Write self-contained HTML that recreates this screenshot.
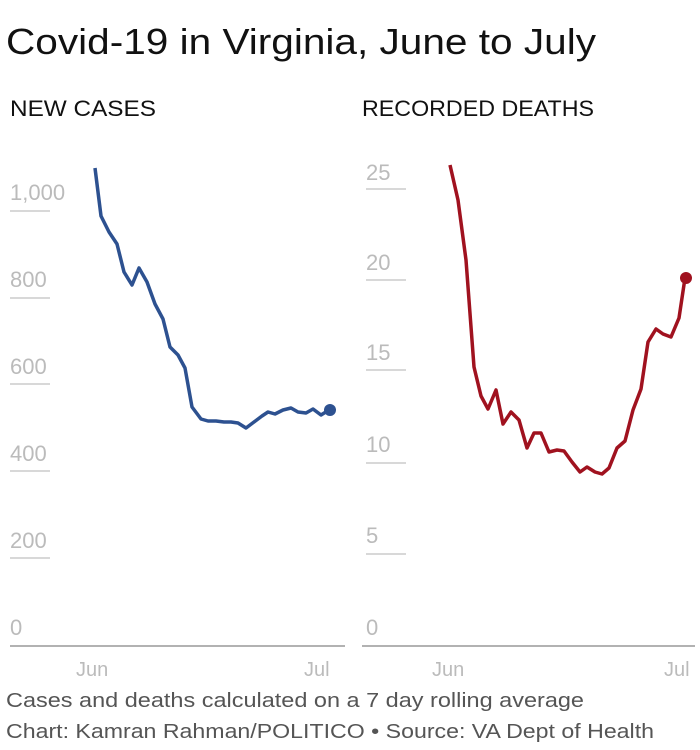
<!DOCTYPE html><html><head><style>body{margin:0;background:#fff}svg{display:block}</style></head><body>
<svg width="700" height="750" font-family="Liberation Sans, sans-serif">
<text x="6" y="54" font-size="36" fill="#111" textLength="590" lengthAdjust="spacingAndGlyphs">Covid-19 in Virginia, June to July</text>
<text x="10" y="116" font-size="22" fill="#111" textLength="146" lengthAdjust="spacingAndGlyphs">NEW CASES</text>
<text x="362" y="116" font-size="22" fill="#111" textLength="232" lengthAdjust="spacingAndGlyphs">RECORDED DEATHS</text>
<g fill="#bbb" font-size="22">
<text x="10" y="200">1,000</text><text x="10" y="287">800</text><text x="10" y="374">600</text><text x="10" y="461">400</text><text x="10" y="548">200</text><text x="10" y="635">0</text>
<text x="366" y="180">25</text><text x="366" y="270">20</text><text x="366" y="360">15</text><text x="366" y="452">10</text><text x="366" y="543">5</text><text x="366" y="635">0</text>
</g>
<g stroke="#d8d8d8" stroke-width="2">
<line x1="10" x2="50" y1="211" y2="211"/><line x1="10" x2="50" y1="298" y2="298"/><line x1="10" x2="50" y1="384" y2="384"/><line x1="10" x2="50" y1="471" y2="471"/><line x1="10" x2="50" y1="558" y2="558"/>
<line x1="366" x2="406" y1="189" y2="189"/><line x1="366" x2="406" y1="280" y2="280"/><line x1="366" x2="406" y1="370" y2="370"/><line x1="366" x2="406" y1="463" y2="463"/><line x1="366" x2="406" y1="554" y2="554"/>
</g>
<line x1="10" x2="345" y1="646" y2="646" stroke="#999" stroke-width="1.5"/>
<line x1="362" x2="695" y1="646" y2="646" stroke="#999" stroke-width="1.5"/>
<g fill="#bbb" font-size="20"><text x="76" y="676">Jun</text><text x="304" y="676">Jul</text><text x="432" y="676">Jun</text><text x="664" y="676">Jul</text></g>
<polyline fill="none" stroke="#2d5190" stroke-width="3.5" stroke-linejoin="round" points="95,168 101,216 109,232 117,244 124,272 132,285 139,268 147,282 155,304 163,319 170,347 178,355 185,368 192,407 201,419 208,421 216,421 224,422 231,422 238,423 246,428 254,422 262,416 268,412 275,414 283,410 291,408 298,412 306,413 313,409 321,415 329,410"/>
<circle cx="330" cy="410" r="6" fill="#2d5190"/>
<polyline fill="none" stroke="#a0121f" stroke-width="3.5" stroke-linejoin="round" points="450,165 458,200 466,260 474,367 481,396 488,409 496,390 503,424 511,412 519,420 527,448 534,433 541,433 549,452 557,450 564,451 572,462 580,472 587,467 595,472 602,474 609,468 617,448 625,441 633,410 641,389 648,342 656,329 663,334 671,337 679,318 685,278"/>
<circle cx="686" cy="278" r="6" fill="#a0121f"/>
<g fill="#555" font-size="20"><text x="6" y="707" textLength="578" lengthAdjust="spacingAndGlyphs">Cases and deaths calculated on a 7 day rolling average</text>
<text x="6" y="738" textLength="648" lengthAdjust="spacingAndGlyphs">Chart: Kamran Rahman/POLITICO • Source: VA Dept of Health</text></g>
</svg></body></html>
